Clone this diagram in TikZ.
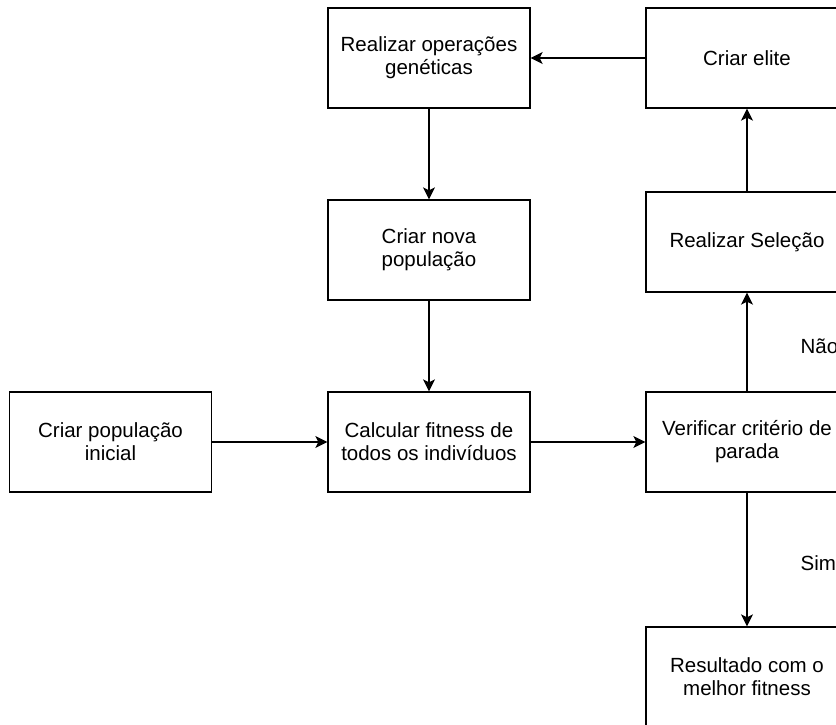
\documentclass[tikz,border=0pt]{standalone}
\usepackage{fontspec}
\setmainfont{Liberation Sans}
\usetikzlibrary{arrows.meta}

\begin{document}
\begin{tikzpicture}[x=1pt, y=-1pt,
  box/.style={draw, line width=1.3pt, minimum width=202pt, minimum height=100pt, inner sep=0pt, align=center, font=\fontsize{20.5}{23}\selectfont},
  flow/.style={-{Stealth[length=12pt,width=12pt,inset=3pt]}, line width=1.3pt},
  answer/.style={anchor=west, inner sep=0pt, xshift=53pt, font=\fontsize{20.5}{23}\selectfont}]
% Frame
\clip (0,0) rectangle (836,724);

% Middle column
\node[box] (geneticas) at (429,58) {Realizar operações\\genéticas};
\node[box] (novapop) at (429,250) {Criar nova\\população};
\node[box] (fitness) at (429,442) {Calcular fitness de\\todos os indivíduos};

% Left box
\node[box] (inicial) at (110.5,442) {Criar população\\inicial};

% Right column
\node[box] (elite) at (747,58) {Criar elite};
\node[box] (selecao) at (747,242) {Realizar Seleção};
\node[box] (criterio) at (747,442) {Verificar critério de\\parada};
\node[box] (resultado) at (747,677) {Resultado com o\\melhor fitness};

% Arrows
\draw[flow] (inicial) -- (fitness);
\draw[flow] (fitness) -- (criterio);
\draw[flow] (criterio) -- (selecao) node[answer, pos=0.46] (nao) {Não};
\draw[flow] (selecao) -- (elite);
\draw[flow] (elite) -- (geneticas);
\draw[flow] (geneticas) -- (novapop);
\draw[flow] (novapop) -- (fitness);
\draw[flow] (criterio) -- (resultado) node[answer, pos=0.53] (sim) {Sim};

\end{tikzpicture}
\end{document}
